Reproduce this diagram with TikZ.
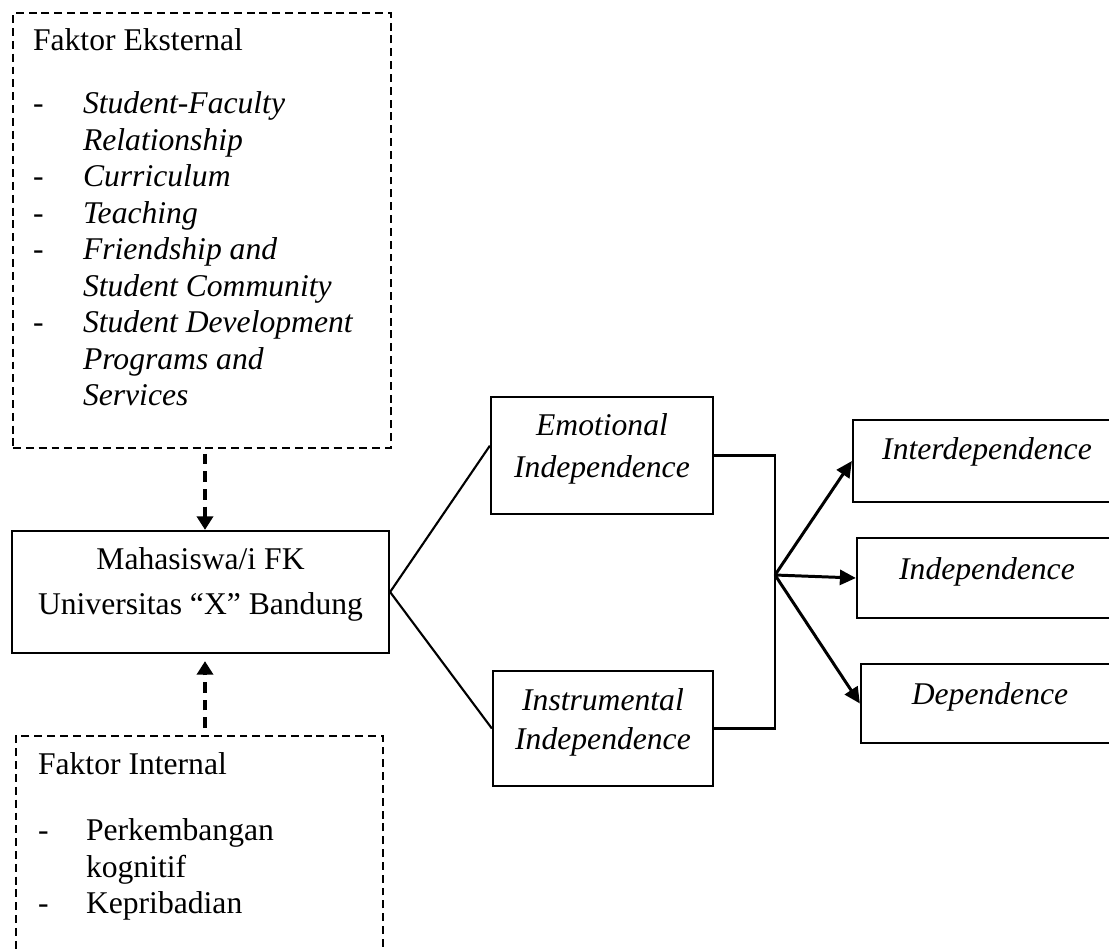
\documentclass[tikz,border=0pt]{standalone}
\usepackage{fontspec}
\setmainfont{Liberation Serif}
\usepackage{array}
\usetikzlibrary{arrows.meta}

\begin{document}
\begin{tikzpicture}[
  x=0.02cm, y=-0.02cm,
  every node/.style={font=\fontsize{18}{20.8}\selectfont},
  box/.style={rectangle, draw, line width=1.3pt, inner sep=0pt},
  dbox/.style={rectangle, draw, line width=1.2pt, dash pattern=on 4.5pt off 2.8pt},
  link/.style={line width=1.2pt},
  dlink/.style={-{Triangle[length=0.27cm,width=0.32cm]}, line width=2pt,
                dash pattern=on 6pt off 4pt},
  olink/.style={-{Triangle[length=0.32cm,width=0.3cm]}, line width=1.7pt}
]
  \useasboundingbox (0,0) rectangle (1109,948);

  % Faktor eksternal
  \node[dbox, anchor=north west, inner xsep=0.4cm, inner ysep=0.24cm] (ekst) at (12,12) {%
    \begin{tabular}{@{}p{1cm}@{}p{5.76cm}@{}}
    \multicolumn{2}{@{}l@{}}{Faktor Eksternal}\\[15pt]
    - & \textit{Student-Faculty}\\
      & \textit{Relationship}\\
    - & \textit{Curriculum}\\
    - & \textit{Teaching}\\
    - & \textit{Friendship and}\\
      & \textit{Student Community}\\
    - & \textit{Student Development}\\
      & \textit{Programs and}\\
      & \textit{Services}\\[10.8pt]
    \end{tabular}};

  % Mahasiswa
  \node[box, minimum width=7.54cm, minimum height=2.44cm] (mhs) at (200.5,592) {%
    \begin{tabular}{@{}c@{}}
    Mahasiswa/i FK\\[4.8pt]
    Universitas “X” Bandung\\[8.5pt]
    \end{tabular}};

  % Faktor internal
  \node[dbox, anchor=north west, inner xsep=0.44cm, inner ysep=0.26cm] (int) at (15,735) {%
    \begin{tabular}{@{}p{0.96cm}@{}p{5.5cm}@{}}
    \multicolumn{2}{@{}l@{}}{Faktor Internal}\\[16.7pt]
    - & Perkembangan\\
      & kognitif\\
    - & Kepribadian\\[30pt]
    \end{tabular}};

  % Dimensi
  \node[box, minimum width=4.44cm, minimum height=2.34cm] (emo) at (602,455.5) {%
    \begin{tabular}{@{}c@{}}
    \textit{Emotional}\\[3.1pt]
    \textit{Independence}\\[7.4pt]
    \end{tabular}};
  \node[box, minimum width=4.4cm, minimum height=2.3cm] (ins) at (603,728.5) {%
    \begin{tabular}{@{}c@{}}
    \textit{Instrumental}\\[1.4pt]
    \textit{Independence}\\[6.8pt]
    \end{tabular}};

  % Hasil
  \node[box, minimum width=5.36cm, minimum height=1.64cm] (inter) at (987,461) {%
    \begin{tabular}{@{}c@{}}\textit{Interdependence}\\[10.2pt]\end{tabular}};
  \node[box, minimum width=5.2cm, minimum height=1.6cm] (indep) at (987,578) {%
    \begin{tabular}{@{}c@{}}\textit{Independence}\\[6.8pt]\end{tabular}};
  \node[box, minimum width=5.16cm, minimum height=1.58cm] (dep) at (990,703.5) {%
    \begin{tabular}{@{}c@{}}\textit{Dependence}\\[7.4pt]\end{tabular}};

  % Connectors
  \coordinate (axis) at (205,0);
  \coordinate (fork) at (775,575);
  \draw[dlink, shorten <=0.1cm] (ekst.south -| axis) -- (mhs.north -| axis);
  \draw[dlink, shorten <=0.14cm, shorten >=0.14cm] (int.north -| axis) -- (mhs.south -| axis);
  \draw[link] (emo.175) -- (mhs.east) -- (ins.west);
  \draw[link] (emo.east) -| (fork) |- (ins.east);
  \draw[olink] (fork) -- (inter.west);
  \draw[olink] (fork) -- (indep.west);
  \draw[olink] (fork) -- (dep.west);
\end{tikzpicture}
\end{document}
